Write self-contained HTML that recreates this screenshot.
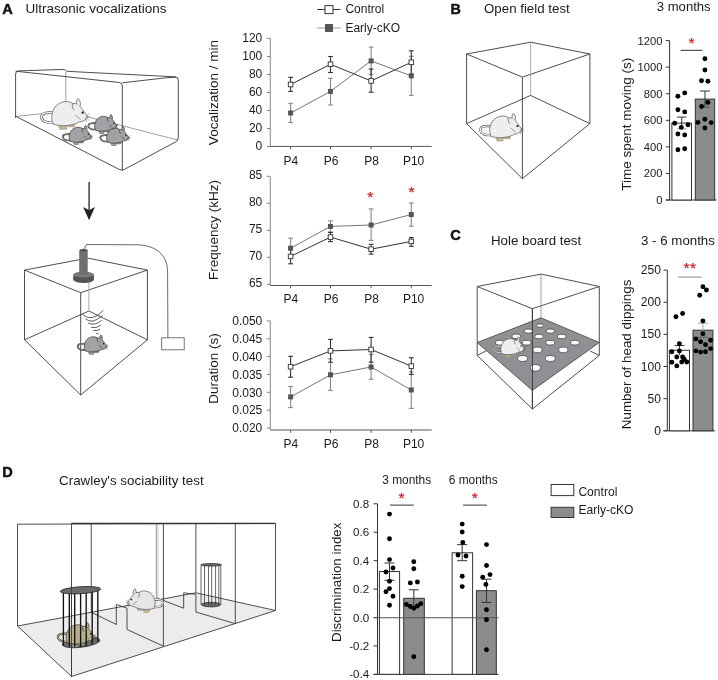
<!DOCTYPE html>
<html><head><meta charset="utf-8"><style>
html,body{margin:0;padding:0;background:#fff;}
svg{display:block;font-family:"Liberation Sans",sans-serif;will-change:transform;}
</style></head><body>
<svg width="718" height="680" viewBox="0 0 718 680">
<rect width="718" height="680" fill="#fff"/>
<text x="2.3" y="13.6" font-size="14.6" text-anchor="start" font-weight="bold" fill="#111" stroke="#111" stroke-width="0.45">A</text>
<text x="25.5" y="12.9" font-size="13.5" text-anchor="start" font-weight="normal" fill="#1a1a1a" >Ultrasonic vocalizations</text>
<text x="450.4" y="13.5" font-size="14.3" text-anchor="start" font-weight="bold" fill="#111" stroke="#111" stroke-width="0.45">B</text>
<text x="484.0" y="13.0" font-size="13.3" text-anchor="start" font-weight="normal" fill="#1a1a1a" >Open field test</text>
<text x="656.8" y="10.6" font-size="13.1" text-anchor="start" font-weight="normal" fill="#1a1a1a" >3 months</text>
<text x="450.2" y="240.3" font-size="14.6" text-anchor="start" font-weight="bold" fill="#111" stroke="#111" stroke-width="0.45">C</text>
<text x="491.0" y="245.4" font-size="13.3" text-anchor="start" font-weight="normal" fill="#1a1a1a" >Hole board test</text>
<text x="641.0" y="245.2" font-size="13.3" text-anchor="start" font-weight="normal" fill="#1a1a1a" >3 - 6 months</text>
<text x="2.2" y="476.7" font-size="14.6" text-anchor="start" font-weight="bold" fill="#111" stroke="#111" stroke-width="0.45">D</text>
<text x="59.0" y="485.0" font-size="13.4" text-anchor="start" font-weight="normal" fill="#1a1a1a" >Crawley's sociability test</text>
<line x1="270.3" y1="38.4" x2="270.3" y2="146.4" stroke="#888" stroke-width="1" />
<line x1="266.8" y1="38.4" x2="270.3" y2="38.4" stroke="#888" stroke-width="1" />
<text x="262.3" y="41.8" font-size="12" text-anchor="end" font-weight="normal" fill="#1a1a1a" >120</text>
<line x1="266.8" y1="56.5" x2="270.3" y2="56.5" stroke="#888" stroke-width="1" />
<text x="262.3" y="59.9" font-size="12" text-anchor="end" font-weight="normal" fill="#1a1a1a" >100</text>
<line x1="266.8" y1="74.5" x2="270.3" y2="74.5" stroke="#888" stroke-width="1" />
<text x="262.3" y="77.89999999999999" font-size="12" text-anchor="end" font-weight="normal" fill="#1a1a1a" >80</text>
<line x1="266.8" y1="92.5" x2="270.3" y2="92.5" stroke="#888" stroke-width="1" />
<text x="262.3" y="95.89999999999999" font-size="12" text-anchor="end" font-weight="normal" fill="#1a1a1a" >60</text>
<line x1="266.8" y1="110.5" x2="270.3" y2="110.5" stroke="#888" stroke-width="1" />
<text x="262.3" y="113.89999999999999" font-size="12" text-anchor="end" font-weight="normal" fill="#1a1a1a" >40</text>
<line x1="266.8" y1="128.5" x2="270.3" y2="128.5" stroke="#888" stroke-width="1" />
<text x="262.3" y="131.9" font-size="12" text-anchor="end" font-weight="normal" fill="#1a1a1a" >20</text>
<line x1="266.8" y1="146.5" x2="270.3" y2="146.5" stroke="#888" stroke-width="1" />
<text x="262.3" y="149.9" font-size="12" text-anchor="end" font-weight="normal" fill="#1a1a1a" >0</text>
<line x1="270.3" y1="146.4" x2="431.7" y2="146.4" stroke="#555" stroke-width="1" />
<line x1="290.6" y1="146.4" x2="290.6" y2="149.20000000000002" stroke="#555" stroke-width="1" />
<text x="290.85" y="164.6" font-size="12" text-anchor="middle" font-weight="normal" fill="#1a1a1a" >P4</text>
<line x1="330.5" y1="146.4" x2="330.5" y2="149.20000000000002" stroke="#555" stroke-width="1" />
<text x="331.2" y="164.6" font-size="12" text-anchor="middle" font-weight="normal" fill="#1a1a1a" >P6</text>
<line x1="371.1" y1="146.4" x2="371.1" y2="149.20000000000002" stroke="#555" stroke-width="1" />
<text x="371.5" y="164.6" font-size="12" text-anchor="middle" font-weight="normal" fill="#1a1a1a" >P8</text>
<line x1="411.3" y1="146.4" x2="411.3" y2="149.20000000000002" stroke="#555" stroke-width="1" />
<text x="413.6" y="164.6" font-size="12" text-anchor="middle" font-weight="normal" fill="#1a1a1a" >P10</text>
<text transform="translate(218.2,92.6) rotate(-90)" font-size="13.5" text-anchor="middle" fill="#1a1a1a">Vocalization / min</text>
<line x1="290.6" y1="103.4" x2="290.6" y2="122.5" stroke="#888" stroke-width="1.1" />
<line x1="288.20000000000005" y1="103.4" x2="293.0" y2="103.4" stroke="#888" stroke-width="1.1" />
<line x1="288.20000000000005" y1="122.5" x2="293.0" y2="122.5" stroke="#888" stroke-width="1.1" />
<line x1="330.5" y1="78.3" x2="330.5" y2="105" stroke="#888" stroke-width="1.1" />
<line x1="328.1" y1="78.3" x2="332.9" y2="78.3" stroke="#888" stroke-width="1.1" />
<line x1="328.1" y1="105" x2="332.9" y2="105" stroke="#888" stroke-width="1.1" />
<line x1="371.1" y1="47.1" x2="371.1" y2="74.6" stroke="#888" stroke-width="1.1" />
<line x1="368.70000000000005" y1="47.1" x2="373.5" y2="47.1" stroke="#888" stroke-width="1.1" />
<line x1="368.70000000000005" y1="74.6" x2="373.5" y2="74.6" stroke="#888" stroke-width="1.1" />
<line x1="411.3" y1="56.3" x2="411.3" y2="95.4" stroke="#888" stroke-width="1.1" />
<line x1="408.90000000000003" y1="56.3" x2="413.7" y2="56.3" stroke="#888" stroke-width="1.1" />
<line x1="408.90000000000003" y1="95.4" x2="413.7" y2="95.4" stroke="#888" stroke-width="1.1" />
<line x1="290.6" y1="77.3" x2="290.6" y2="91.4" stroke="#333" stroke-width="1.1" />
<line x1="288.20000000000005" y1="77.3" x2="293.0" y2="77.3" stroke="#333" stroke-width="1.1" />
<line x1="288.20000000000005" y1="91.4" x2="293.0" y2="91.4" stroke="#333" stroke-width="1.1" />
<line x1="330.5" y1="56.5" x2="330.5" y2="72.5" stroke="#333" stroke-width="1.1" />
<line x1="328.1" y1="56.5" x2="332.9" y2="56.5" stroke="#333" stroke-width="1.1" />
<line x1="328.1" y1="72.5" x2="332.9" y2="72.5" stroke="#333" stroke-width="1.1" />
<line x1="371.1" y1="69" x2="371.1" y2="92.2" stroke="#333" stroke-width="1.1" />
<line x1="368.70000000000005" y1="69" x2="373.5" y2="69" stroke="#333" stroke-width="1.1" />
<line x1="368.70000000000005" y1="92.2" x2="373.5" y2="92.2" stroke="#333" stroke-width="1.1" />
<line x1="411.3" y1="50.8" x2="411.3" y2="74.4" stroke="#333" stroke-width="1.1" />
<line x1="408.90000000000003" y1="50.8" x2="413.7" y2="50.8" stroke="#333" stroke-width="1.1" />
<line x1="408.90000000000003" y1="74.4" x2="413.7" y2="74.4" stroke="#333" stroke-width="1.1" />
<path d="M290.6,113 L330.5,91.4 L371.1,60.9 L411.3,75.9" fill="none" stroke="#777" stroke-width="1" />
<path d="M290.6,84.5 L330.5,64.3 L371.1,80.9 L411.3,62.3" fill="none" stroke="#333" stroke-width="1" />
<rect x="288.1" y="110.5" width="5" height="5" fill="#555"/>
<rect x="328.0" y="88.9" width="5" height="5" fill="#555"/>
<rect x="368.6" y="58.4" width="5" height="5" fill="#555"/>
<rect x="408.8" y="73.4" width="5" height="5" fill="#555"/>
<rect x="288.3" y="82.2" width="4.6" height="4.6" fill="#fff" stroke="#333" stroke-width="0.9"/>
<rect x="328.2" y="62.0" width="4.6" height="4.6" fill="#fff" stroke="#333" stroke-width="0.9"/>
<rect x="368.8" y="78.60000000000001" width="4.6" height="4.6" fill="#fff" stroke="#333" stroke-width="0.9"/>
<rect x="409.0" y="60.0" width="4.6" height="4.6" fill="#fff" stroke="#333" stroke-width="0.9"/>
<line x1="270.3" y1="176.3" x2="270.3" y2="285.5" stroke="#888" stroke-width="1" />
<line x1="266.8" y1="176.3" x2="270.3" y2="176.3" stroke="#888" stroke-width="1" />
<text x="262.3" y="179.10000000000002" font-size="12" text-anchor="end" font-weight="normal" fill="#1a1a1a" >85</text>
<line x1="266.8" y1="203.3" x2="270.3" y2="203.3" stroke="#888" stroke-width="1" />
<text x="262.3" y="206.10000000000002" font-size="12" text-anchor="end" font-weight="normal" fill="#1a1a1a" >80</text>
<line x1="266.8" y1="230.3" x2="270.3" y2="230.3" stroke="#888" stroke-width="1" />
<text x="262.3" y="233.10000000000002" font-size="12" text-anchor="end" font-weight="normal" fill="#1a1a1a" >75</text>
<line x1="266.8" y1="257.3" x2="270.3" y2="257.3" stroke="#888" stroke-width="1" />
<text x="262.3" y="260.1" font-size="12" text-anchor="end" font-weight="normal" fill="#1a1a1a" >70</text>
<line x1="266.8" y1="284.3" x2="270.3" y2="284.3" stroke="#888" stroke-width="1" />
<text x="262.3" y="287.1" font-size="12" text-anchor="end" font-weight="normal" fill="#1a1a1a" >65</text>
<line x1="270.3" y1="285.5" x2="431.7" y2="285.5" stroke="#555" stroke-width="1" />
<line x1="290.6" y1="285.5" x2="290.6" y2="288.3" stroke="#555" stroke-width="1" />
<text x="290.85" y="303.2" font-size="12" text-anchor="middle" font-weight="normal" fill="#1a1a1a" >P4</text>
<line x1="330.5" y1="285.5" x2="330.5" y2="288.3" stroke="#555" stroke-width="1" />
<text x="331.2" y="303.2" font-size="12" text-anchor="middle" font-weight="normal" fill="#1a1a1a" >P6</text>
<line x1="371.1" y1="285.5" x2="371.1" y2="288.3" stroke="#555" stroke-width="1" />
<text x="371.5" y="303.2" font-size="12" text-anchor="middle" font-weight="normal" fill="#1a1a1a" >P8</text>
<line x1="411.3" y1="285.5" x2="411.3" y2="288.3" stroke="#555" stroke-width="1" />
<text x="413.6" y="303.2" font-size="12" text-anchor="middle" font-weight="normal" fill="#1a1a1a" >P10</text>
<text transform="translate(218.2,230.0) rotate(-90)" font-size="13.5" text-anchor="middle" fill="#1a1a1a">Frequency (kHz)</text>
<line x1="290.6" y1="238.1" x2="290.6" y2="258" stroke="#888" stroke-width="1.1" />
<line x1="288.20000000000005" y1="238.1" x2="293.0" y2="238.1" stroke="#888" stroke-width="1.1" />
<line x1="288.20000000000005" y1="258" x2="293.0" y2="258" stroke="#888" stroke-width="1.1" />
<line x1="330.5" y1="220.9" x2="330.5" y2="232" stroke="#888" stroke-width="1.1" />
<line x1="328.1" y1="220.9" x2="332.9" y2="220.9" stroke="#888" stroke-width="1.1" />
<line x1="328.1" y1="232" x2="332.9" y2="232" stroke="#888" stroke-width="1.1" />
<line x1="371.1" y1="208.9" x2="371.1" y2="240.4" stroke="#888" stroke-width="1.1" />
<line x1="368.70000000000005" y1="208.9" x2="373.5" y2="208.9" stroke="#888" stroke-width="1.1" />
<line x1="368.70000000000005" y1="240.4" x2="373.5" y2="240.4" stroke="#888" stroke-width="1.1" />
<line x1="411.3" y1="203" x2="411.3" y2="226.2" stroke="#888" stroke-width="1.1" />
<line x1="408.90000000000003" y1="203" x2="413.7" y2="203" stroke="#888" stroke-width="1.1" />
<line x1="408.90000000000003" y1="226.2" x2="413.7" y2="226.2" stroke="#888" stroke-width="1.1" />
<line x1="290.6" y1="249" x2="290.6" y2="263.8" stroke="#333" stroke-width="1.1" />
<line x1="288.20000000000005" y1="249" x2="293.0" y2="249" stroke="#333" stroke-width="1.1" />
<line x1="288.20000000000005" y1="263.8" x2="293.0" y2="263.8" stroke="#333" stroke-width="1.1" />
<line x1="330.5" y1="232.5" x2="330.5" y2="241.6" stroke="#333" stroke-width="1.1" />
<line x1="328.1" y1="232.5" x2="332.9" y2="232.5" stroke="#333" stroke-width="1.1" />
<line x1="328.1" y1="241.6" x2="332.9" y2="241.6" stroke="#333" stroke-width="1.1" />
<line x1="371.1" y1="244.3" x2="371.1" y2="254.1" stroke="#333" stroke-width="1.1" />
<line x1="368.70000000000005" y1="244.3" x2="373.5" y2="244.3" stroke="#333" stroke-width="1.1" />
<line x1="368.70000000000005" y1="254.1" x2="373.5" y2="254.1" stroke="#333" stroke-width="1.1" />
<line x1="411.3" y1="237.5" x2="411.3" y2="246.3" stroke="#333" stroke-width="1.1" />
<line x1="408.90000000000003" y1="237.5" x2="413.7" y2="237.5" stroke="#333" stroke-width="1.1" />
<line x1="408.90000000000003" y1="246.3" x2="413.7" y2="246.3" stroke="#333" stroke-width="1.1" />
<path d="M290.6,248.2 L330.5,226.4 L371.1,225 L411.3,214.5" fill="none" stroke="#777" stroke-width="1" />
<path d="M290.6,256.4 L330.5,237.1 L371.1,249.2 L411.3,241.4" fill="none" stroke="#333" stroke-width="1" />
<rect x="288.1" y="245.7" width="5" height="5" fill="#555"/>
<rect x="328.0" y="223.9" width="5" height="5" fill="#555"/>
<rect x="368.6" y="222.5" width="5" height="5" fill="#555"/>
<rect x="408.8" y="212.0" width="5" height="5" fill="#555"/>
<rect x="288.3" y="254.09999999999997" width="4.6" height="4.6" fill="#fff" stroke="#333" stroke-width="0.9"/>
<rect x="328.2" y="234.79999999999998" width="4.6" height="4.6" fill="#fff" stroke="#333" stroke-width="0.9"/>
<rect x="368.8" y="246.89999999999998" width="4.6" height="4.6" fill="#fff" stroke="#333" stroke-width="0.9"/>
<rect x="409.0" y="239.1" width="4.6" height="4.6" fill="#fff" stroke="#333" stroke-width="0.9"/>
<line x1="270.3" y1="320.9" x2="270.3" y2="430" stroke="#888" stroke-width="1" />
<line x1="266.8" y1="320.9" x2="270.3" y2="320.9" stroke="#888" stroke-width="1" />
<text x="262.3" y="325.2" font-size="12" text-anchor="end" font-weight="normal" fill="#1a1a1a" >0.050</text>
<line x1="266.8" y1="338.75" x2="270.3" y2="338.75" stroke="#888" stroke-width="1" />
<text x="262.3" y="343.05" font-size="12" text-anchor="end" font-weight="normal" fill="#1a1a1a" >0.045</text>
<line x1="266.8" y1="356.59999999999997" x2="270.3" y2="356.59999999999997" stroke="#888" stroke-width="1" />
<text x="262.3" y="360.9" font-size="12" text-anchor="end" font-weight="normal" fill="#1a1a1a" >0.040</text>
<line x1="266.8" y1="374.45" x2="270.3" y2="374.45" stroke="#888" stroke-width="1" />
<text x="262.3" y="378.75" font-size="12" text-anchor="end" font-weight="normal" fill="#1a1a1a" >0.035</text>
<line x1="266.8" y1="392.29999999999995" x2="270.3" y2="392.29999999999995" stroke="#888" stroke-width="1" />
<text x="262.3" y="396.59999999999997" font-size="12" text-anchor="end" font-weight="normal" fill="#1a1a1a" >0.030</text>
<line x1="266.8" y1="410.15" x2="270.3" y2="410.15" stroke="#888" stroke-width="1" />
<text x="262.3" y="414.45" font-size="12" text-anchor="end" font-weight="normal" fill="#1a1a1a" >0.025</text>
<line x1="266.8" y1="428.0" x2="270.3" y2="428.0" stroke="#888" stroke-width="1" />
<text x="262.3" y="432.3" font-size="12" text-anchor="end" font-weight="normal" fill="#1a1a1a" >0.020</text>
<line x1="270.3" y1="430" x2="431.7" y2="430" stroke="#555" stroke-width="1" />
<line x1="290.6" y1="430" x2="290.6" y2="432.8" stroke="#555" stroke-width="1" />
<text x="290.85" y="448.2" font-size="12" text-anchor="middle" font-weight="normal" fill="#1a1a1a" >P4</text>
<line x1="330.5" y1="430" x2="330.5" y2="432.8" stroke="#555" stroke-width="1" />
<text x="331.2" y="448.2" font-size="12" text-anchor="middle" font-weight="normal" fill="#1a1a1a" >P6</text>
<line x1="371.1" y1="430" x2="371.1" y2="432.8" stroke="#555" stroke-width="1" />
<text x="371.5" y="448.2" font-size="12" text-anchor="middle" font-weight="normal" fill="#1a1a1a" >P8</text>
<line x1="411.3" y1="430" x2="411.3" y2="432.8" stroke="#555" stroke-width="1" />
<text x="413.6" y="448.2" font-size="12" text-anchor="middle" font-weight="normal" fill="#1a1a1a" >P10</text>
<text transform="translate(218.2,368.5) rotate(-90)" font-size="13.5" text-anchor="middle" fill="#1a1a1a">Duration (s)</text>
<line x1="290.6" y1="386.5" x2="290.6" y2="407.6" stroke="#888" stroke-width="1.1" />
<line x1="288.20000000000005" y1="386.5" x2="293.0" y2="386.5" stroke="#888" stroke-width="1.1" />
<line x1="288.20000000000005" y1="407.6" x2="293.0" y2="407.6" stroke="#888" stroke-width="1.1" />
<line x1="330.5" y1="358.9" x2="330.5" y2="390.4" stroke="#888" stroke-width="1.1" />
<line x1="328.1" y1="358.9" x2="332.9" y2="358.9" stroke="#888" stroke-width="1.1" />
<line x1="328.1" y1="390.4" x2="332.9" y2="390.4" stroke="#888" stroke-width="1.1" />
<line x1="371.1" y1="354.4" x2="371.1" y2="379.3" stroke="#888" stroke-width="1.1" />
<line x1="368.70000000000005" y1="354.4" x2="373.5" y2="354.4" stroke="#888" stroke-width="1.1" />
<line x1="368.70000000000005" y1="379.3" x2="373.5" y2="379.3" stroke="#888" stroke-width="1.1" />
<line x1="411.3" y1="371.9" x2="411.3" y2="408.4" stroke="#888" stroke-width="1.1" />
<line x1="408.90000000000003" y1="371.9" x2="413.7" y2="371.9" stroke="#888" stroke-width="1.1" />
<line x1="408.90000000000003" y1="408.4" x2="413.7" y2="408.4" stroke="#888" stroke-width="1.1" />
<line x1="290.6" y1="356.3" x2="290.6" y2="377.2" stroke="#333" stroke-width="1.1" />
<line x1="288.20000000000005" y1="356.3" x2="293.0" y2="356.3" stroke="#333" stroke-width="1.1" />
<line x1="288.20000000000005" y1="377.2" x2="293.0" y2="377.2" stroke="#333" stroke-width="1.1" />
<line x1="330.5" y1="339.4" x2="330.5" y2="362.2" stroke="#333" stroke-width="1.1" />
<line x1="328.1" y1="339.4" x2="332.9" y2="339.4" stroke="#333" stroke-width="1.1" />
<line x1="328.1" y1="362.2" x2="332.9" y2="362.2" stroke="#333" stroke-width="1.1" />
<line x1="371.1" y1="337.4" x2="371.1" y2="362.2" stroke="#333" stroke-width="1.1" />
<line x1="368.70000000000005" y1="337.4" x2="373.5" y2="337.4" stroke="#333" stroke-width="1.1" />
<line x1="368.70000000000005" y1="362.2" x2="373.5" y2="362.2" stroke="#333" stroke-width="1.1" />
<line x1="411.3" y1="357.7" x2="411.3" y2="374.5" stroke="#333" stroke-width="1.1" />
<line x1="408.90000000000003" y1="357.7" x2="413.7" y2="357.7" stroke="#333" stroke-width="1.1" />
<line x1="408.90000000000003" y1="374.5" x2="413.7" y2="374.5" stroke="#333" stroke-width="1.1" />
<path d="M290.6,396.9 L330.5,374.8 L371.1,367 L411.3,390" fill="none" stroke="#777" stroke-width="1" />
<path d="M290.6,366.7 L330.5,350.9 L371.1,349.5 L411.3,366.1" fill="none" stroke="#333" stroke-width="1" />
<rect x="288.1" y="394.4" width="5" height="5" fill="#555"/>
<rect x="328.0" y="372.3" width="5" height="5" fill="#555"/>
<rect x="368.6" y="364.5" width="5" height="5" fill="#555"/>
<rect x="408.8" y="387.5" width="5" height="5" fill="#555"/>
<rect x="288.3" y="364.4" width="4.6" height="4.6" fill="#fff" stroke="#333" stroke-width="0.9"/>
<rect x="328.2" y="348.59999999999997" width="4.6" height="4.6" fill="#fff" stroke="#333" stroke-width="0.9"/>
<rect x="368.8" y="347.2" width="4.6" height="4.6" fill="#fff" stroke="#333" stroke-width="0.9"/>
<rect x="409.0" y="363.8" width="4.6" height="4.6" fill="#fff" stroke="#333" stroke-width="0.9"/>
<text x="370.3" y="202.42" font-size="15.5" text-anchor="middle" font-weight="normal" fill="#c4202b" stroke="#c4202b" stroke-width="0.25">*</text>
<text x="411.6" y="196.62" font-size="15.5" text-anchor="middle" font-weight="normal" fill="#c4202b" stroke="#c4202b" stroke-width="0.25">*</text>
<line x1="317.2" y1="9.5" x2="340.6" y2="9.5" stroke="#333" stroke-width="1" />
<rect x="325" y="5.6" width="8" height="8" fill="#fff" stroke="#333" stroke-width="1"/>
<text x="345.4" y="13.3" font-size="12" text-anchor="start" font-weight="normal" fill="#1a1a1a" >Control</text>
<line x1="317.2" y1="27.9" x2="340.6" y2="27.9" stroke="#aaa" stroke-width="1.2" />
<rect x="325" y="24" width="8" height="8" fill="#555"/>
<text x="345.4" y="31.9" font-size="12" text-anchor="start" font-weight="normal" fill="#1a1a1a" >Early-cKO</text>
<line x1="669.6" y1="40.6" x2="669.6" y2="200" stroke="#333" stroke-width="1" />
<line x1="665.8" y1="40.6" x2="669.6" y2="40.6" stroke="#333" stroke-width="1" />
<text x="662.4" y="44.5" font-size="11.2" text-anchor="end" font-weight="normal" fill="#1a1a1a" >1200</text>
<line x1="665.8" y1="67.17" x2="669.6" y2="67.17" stroke="#333" stroke-width="1" />
<text x="662.4" y="71.07000000000001" font-size="11.2" text-anchor="end" font-weight="normal" fill="#1a1a1a" >1000</text>
<line x1="665.8" y1="93.74000000000001" x2="669.6" y2="93.74000000000001" stroke="#333" stroke-width="1" />
<text x="662.4" y="97.64000000000001" font-size="11.2" text-anchor="end" font-weight="normal" fill="#1a1a1a" >800</text>
<line x1="665.8" y1="120.31" x2="669.6" y2="120.31" stroke="#333" stroke-width="1" />
<text x="662.4" y="124.21000000000001" font-size="11.2" text-anchor="end" font-weight="normal" fill="#1a1a1a" >600</text>
<line x1="665.8" y1="146.88" x2="669.6" y2="146.88" stroke="#333" stroke-width="1" />
<text x="662.4" y="150.78" font-size="11.2" text-anchor="end" font-weight="normal" fill="#1a1a1a" >400</text>
<line x1="665.8" y1="173.45" x2="669.6" y2="173.45" stroke="#333" stroke-width="1" />
<text x="662.4" y="177.35" font-size="11.2" text-anchor="end" font-weight="normal" fill="#1a1a1a" >200</text>
<line x1="665.8" y1="200.02" x2="669.6" y2="200.02" stroke="#333" stroke-width="1" />
<text x="662.4" y="203.92000000000002" font-size="11.2" text-anchor="end" font-weight="normal" fill="#1a1a1a" >0</text>
<line x1="665.8" y1="200" x2="716.6" y2="200" stroke="#333" stroke-width="1" />
<rect x="671.9" y="123.1" width="19.6" height="76.9" fill="#fff" stroke="#333" stroke-width="1"/>
<rect x="695.3" y="99.1" width="19.4" height="100.9" fill="#8c8c8f" stroke="#333" stroke-width="1"/>
<text transform="translate(630.9,124.2) rotate(-90)" font-size="13.5" text-anchor="middle" fill="#1a1a1a">Time spent moving (s)</text>
<line x1="680.6" y1="50.3" x2="702.6" y2="50.3" stroke="#333" stroke-width="1" />
<text x="691.4" y="48.12" font-size="15.5" text-anchor="middle" font-weight="normal" fill="#c4202b" stroke="#c4202b" stroke-width="0.25">*</text>
<line x1="681.7" y1="117.1" x2="681.7" y2="128.8" stroke="#333" stroke-width="1" />
<line x1="677" y1="117.1" x2="686.4" y2="117.1" stroke="#333" stroke-width="1" />
<line x1="677" y1="128.8" x2="686.4" y2="128.8" stroke="#aaa" stroke-width="1" />
<line x1="705" y1="91" x2="705" y2="107.2" stroke="#333" stroke-width="1" />
<line x1="700" y1="91" x2="710" y2="91" stroke="#333" stroke-width="1" />
<line x1="700" y1="107.2" x2="710" y2="107.2" stroke="#555" stroke-width="1" />
<circle cx="677.9" cy="96.2" r="2.45" fill="#000"/>
<circle cx="684.7" cy="92.9" r="2.45" fill="#000"/>
<circle cx="677.9" cy="109.7" r="2.45" fill="#000"/>
<circle cx="684.7" cy="111.9" r="2.45" fill="#000"/>
<circle cx="674.7" cy="123.2" r="2.45" fill="#000"/>
<circle cx="688" cy="124.7" r="2.45" fill="#000"/>
<circle cx="681.3" cy="127.4" r="2.45" fill="#000"/>
<circle cx="677.9" cy="134" r="2.45" fill="#000"/>
<circle cx="684.7" cy="135" r="2.45" fill="#000"/>
<circle cx="677.9" cy="149.7" r="2.45" fill="#000"/>
<circle cx="684.7" cy="148.8" r="2.45" fill="#000"/>
<circle cx="704.9" cy="58.7" r="2.45" fill="#000"/>
<circle cx="704.9" cy="70" r="2.45" fill="#000"/>
<circle cx="701.5" cy="80.7" r="2.45" fill="#000"/>
<circle cx="707.9" cy="81.2" r="2.45" fill="#000"/>
<circle cx="707.9" cy="102.4" r="2.45" fill="#000"/>
<circle cx="701.6" cy="106.5" r="2.45" fill="#000"/>
<circle cx="704.9" cy="119.3" r="2.45" fill="#000"/>
<circle cx="697.9" cy="122.4" r="2.45" fill="#000"/>
<circle cx="711.2" cy="122.6" r="2.45" fill="#000"/>
<circle cx="704.9" cy="128" r="2.45" fill="#000"/>
<line x1="667.3" y1="270.1" x2="667.3" y2="430.8" stroke="#333" stroke-width="1" />
<line x1="663.5" y1="270.1" x2="667.3" y2="270.1" stroke="#333" stroke-width="1" />
<text x="661.0" y="274.20000000000005" font-size="12.1" text-anchor="end" font-weight="normal" fill="#1a1a1a" >250</text>
<line x1="663.5" y1="302.24" x2="667.3" y2="302.24" stroke="#333" stroke-width="1" />
<text x="661.0" y="306.34000000000003" font-size="12.1" text-anchor="end" font-weight="normal" fill="#1a1a1a" >200</text>
<line x1="663.5" y1="334.38" x2="667.3" y2="334.38" stroke="#333" stroke-width="1" />
<text x="661.0" y="338.48" font-size="12.1" text-anchor="end" font-weight="normal" fill="#1a1a1a" >150</text>
<line x1="663.5" y1="366.52000000000004" x2="667.3" y2="366.52000000000004" stroke="#333" stroke-width="1" />
<text x="661.0" y="370.62000000000006" font-size="12.1" text-anchor="end" font-weight="normal" fill="#1a1a1a" >100</text>
<line x1="663.5" y1="398.66" x2="667.3" y2="398.66" stroke="#333" stroke-width="1" />
<text x="661.0" y="402.76000000000005" font-size="12.1" text-anchor="end" font-weight="normal" fill="#1a1a1a" >50</text>
<line x1="663.5" y1="430.8" x2="667.3" y2="430.8" stroke="#333" stroke-width="1" />
<text x="661.0" y="434.90000000000003" font-size="12.1" text-anchor="end" font-weight="normal" fill="#1a1a1a" >0</text>
<line x1="663.5" y1="430.8" x2="715" y2="430.8" stroke="#333" stroke-width="1" />
<rect x="669.4" y="350.3" width="20.1" height="80.5" fill="#fff" stroke="#333" stroke-width="1"/>
<rect x="693" y="330.2" width="19.9" height="100.6" fill="#8c8c8f" stroke="#333" stroke-width="1"/>
<text transform="translate(630.9,354.4) rotate(-90)" font-size="13.4" text-anchor="middle" fill="#1a1a1a">Number of head dippings</text>
<line x1="678.2" y1="277.1" x2="701.8" y2="277.1" stroke="#888" stroke-width="1" />
<text x="686.5" y="272.82" font-size="15.5" text-anchor="middle" font-weight="normal" fill="#c4202b" stroke="#c4202b" stroke-width="0.25">*</text>
<text x="693" y="272.82" font-size="15.5" text-anchor="middle" font-weight="normal" fill="#c4202b" stroke="#c4202b" stroke-width="0.25">*</text>
<line x1="679.4" y1="345.6" x2="679.4" y2="355" stroke="#333" stroke-width="1" />
<line x1="674.5" y1="345.6" x2="684.5" y2="345.6" stroke="#333" stroke-width="1" />
<line x1="702.9" y1="323.2" x2="702.9" y2="337.3" stroke="#aaa" stroke-width="1" />
<line x1="698" y1="323.2" x2="708" y2="323.2" stroke="#aaa" stroke-width="1" />
<line x1="698" y1="337.3" x2="708" y2="337.3" stroke="#555" stroke-width="1" />
<circle cx="675.9" cy="316.8" r="2.45" fill="#000"/>
<circle cx="682.6" cy="313.5" r="2.45" fill="#000"/>
<circle cx="679.4" cy="343.8" r="2.45" fill="#000"/>
<circle cx="671.8" cy="351.8" r="2.45" fill="#000"/>
<circle cx="679.4" cy="350.9" r="2.45" fill="#000"/>
<circle cx="676.8" cy="357" r="2.45" fill="#000"/>
<circle cx="682.6" cy="357" r="2.45" fill="#000"/>
<circle cx="684.2" cy="359.3" r="2.45" fill="#000"/>
<circle cx="671.8" cy="362.3" r="2.45" fill="#000"/>
<circle cx="681.7" cy="362" r="2.45" fill="#000"/>
<circle cx="686.8" cy="362" r="2.45" fill="#000"/>
<circle cx="676.8" cy="365.9" r="2.45" fill="#000"/>
<circle cx="702.9" cy="286.8" r="2.45" fill="#000"/>
<circle cx="706.4" cy="290" r="2.45" fill="#000"/>
<circle cx="699.7" cy="295.3" r="2.45" fill="#000"/>
<circle cx="702.9" cy="320.9" r="2.45" fill="#000"/>
<circle cx="702.9" cy="333.8" r="2.45" fill="#000"/>
<circle cx="695.8" cy="338.9" r="2.45" fill="#000"/>
<circle cx="710.6" cy="340.3" r="2.45" fill="#000"/>
<circle cx="700.6" cy="341.7" r="2.45" fill="#000"/>
<circle cx="705.5" cy="344.7" r="2.45" fill="#000"/>
<circle cx="710.6" cy="348.6" r="2.45" fill="#000"/>
<circle cx="695.8" cy="350.9" r="2.45" fill="#000"/>
<circle cx="700.6" cy="352.1" r="2.45" fill="#000"/>
<circle cx="705.5" cy="351.8" r="2.45" fill="#000"/>
<line x1="377.5" y1="503.8" x2="377.5" y2="674.4" stroke="#333" stroke-width="1" />
<line x1="373.6" y1="503.8" x2="377.5" y2="503.8" stroke="#333" stroke-width="1" />
<text x="369.2" y="507.8" font-size="11.6" text-anchor="end" font-weight="normal" fill="#1a1a1a" >0.8</text>
<line x1="373.6" y1="532.23" x2="377.5" y2="532.23" stroke="#333" stroke-width="1" />
<text x="369.2" y="536.23" font-size="11.6" text-anchor="end" font-weight="normal" fill="#1a1a1a" >0.6</text>
<line x1="373.6" y1="560.66" x2="377.5" y2="560.66" stroke="#333" stroke-width="1" />
<text x="369.2" y="564.66" font-size="11.6" text-anchor="end" font-weight="normal" fill="#1a1a1a" >0.4</text>
<line x1="373.6" y1="589.09" x2="377.5" y2="589.09" stroke="#333" stroke-width="1" />
<text x="369.2" y="593.09" font-size="11.6" text-anchor="end" font-weight="normal" fill="#1a1a1a" >0.2</text>
<line x1="373.6" y1="617.52" x2="377.5" y2="617.52" stroke="#333" stroke-width="1" />
<text x="369.2" y="621.52" font-size="11.6" text-anchor="end" font-weight="normal" fill="#1a1a1a" >0.0</text>
<line x1="373.6" y1="645.95" x2="377.5" y2="645.95" stroke="#333" stroke-width="1" />
<text x="369.2" y="649.95" font-size="11.6" text-anchor="end" font-weight="normal" fill="#1a1a1a" >-0.2</text>
<line x1="373.6" y1="674.38" x2="377.5" y2="674.38" stroke="#333" stroke-width="1" />
<text x="369.2" y="678.38" font-size="11.6" text-anchor="end" font-weight="normal" fill="#1a1a1a" >-0.4</text>
<line x1="373.6" y1="674.4" x2="498.5" y2="674.4" stroke="#333" stroke-width="1" />
<rect x="379.4" y="571.5" width="20.2" height="102.8" fill="#fff" stroke="#333" stroke-width="1"/>
<rect x="403.7" y="598.3" width="20.6" height="76" fill="#8c8c8f" stroke="#333" stroke-width="1"/>
<rect x="452.1" y="552.8" width="20.5" height="121.5" fill="#fff" stroke="#333" stroke-width="1"/>
<rect x="476.4" y="590.7" width="19.9" height="83.6" fill="#8c8c8f" stroke="#333" stroke-width="1"/>
<line x1="373.6" y1="617.8" x2="498.5" y2="617.8" stroke="#555" stroke-width="1.1" />
<text transform="translate(340.6,582.3) rotate(-90)" font-size="13.35" text-anchor="middle" fill="#1a1a1a">Discrimination index</text>
<text x="406.7" y="484.1" font-size="11.9" text-anchor="middle" font-weight="normal" fill="#1a1a1a" >3 months</text>
<text x="473.2" y="484.1" font-size="11.9" text-anchor="middle" font-weight="normal" fill="#1a1a1a" >6 months</text>
<line x1="390.1" y1="505.1" x2="413.8" y2="505.1" stroke="#333" stroke-width="1" />
<text x="401.6" y="502.72" font-size="15.5" text-anchor="middle" font-weight="normal" fill="#c4202b" stroke="#c4202b" stroke-width="0.25">*</text>
<line x1="463.1" y1="505.1" x2="486.8" y2="505.1" stroke="#333" stroke-width="1" />
<text x="474.8" y="502.72" font-size="15.5" text-anchor="middle" font-weight="normal" fill="#c4202b" stroke="#c4202b" stroke-width="0.25">*</text>
<line x1="389.5" y1="563" x2="389.5" y2="580.3" stroke="#333" stroke-width="1" />
<line x1="384.5" y1="563" x2="394.5" y2="563" stroke="#333" stroke-width="1" />
<line x1="384.5" y1="580.3" x2="394.5" y2="580.3" stroke="#333" stroke-width="1" />
<line x1="413.8" y1="589.8" x2="413.8" y2="607" stroke="#333" stroke-width="1" />
<line x1="408.8" y1="589.8" x2="418.8" y2="589.8" stroke="#333" stroke-width="1" />
<line x1="408.8" y1="607" x2="418.8" y2="607" stroke="#333" stroke-width="1" />
<line x1="462.2" y1="544.6" x2="462.2" y2="560.7" stroke="#333" stroke-width="1" />
<line x1="457.2" y1="544.6" x2="467.2" y2="544.6" stroke="#333" stroke-width="1" />
<line x1="457.2" y1="560.7" x2="467.2" y2="560.7" stroke="#333" stroke-width="1" />
<line x1="486.5" y1="579.2" x2="486.5" y2="602.4" stroke="#333" stroke-width="1" />
<line x1="481.5" y1="579.2" x2="491.5" y2="579.2" stroke="#333" stroke-width="1" />
<line x1="481.5" y1="602.4" x2="491.5" y2="602.4" stroke="#333" stroke-width="1" />
<circle cx="389.5" cy="514.1" r="2.45" fill="#000"/>
<circle cx="389.5" cy="538.8" r="2.45" fill="#000"/>
<circle cx="389.5" cy="559.6" r="2.45" fill="#000"/>
<circle cx="393" cy="568" r="2.45" fill="#000"/>
<circle cx="386" cy="572" r="2.45" fill="#000"/>
<circle cx="389.5" cy="581.2" r="2.45" fill="#000"/>
<circle cx="389.5" cy="588.6" r="2.45" fill="#000"/>
<circle cx="386" cy="591.8" r="2.45" fill="#000"/>
<circle cx="393" cy="596.2" r="2.45" fill="#000"/>
<circle cx="389.5" cy="605.3" r="2.45" fill="#000"/>
<circle cx="413.8" cy="561.8" r="2.45" fill="#000"/>
<circle cx="413.8" cy="568.8" r="2.45" fill="#000"/>
<circle cx="410.3" cy="582.9" r="2.45" fill="#000"/>
<circle cx="417.4" cy="582" r="2.45" fill="#000"/>
<circle cx="406.4" cy="604.5" r="2.45" fill="#000"/>
<circle cx="410.3" cy="606.5" r="2.45" fill="#000"/>
<circle cx="413.8" cy="608.2" r="2.45" fill="#000"/>
<circle cx="417.4" cy="606" r="2.45" fill="#000"/>
<circle cx="420.8" cy="603.8" r="2.45" fill="#000"/>
<circle cx="413.8" cy="656.8" r="2.45" fill="#000"/>
<circle cx="462.2" cy="524.1" r="2.45" fill="#000"/>
<circle cx="462.2" cy="532" r="2.45" fill="#000"/>
<circle cx="462.8" cy="542.4" r="2.45" fill="#000"/>
<circle cx="458" cy="555" r="2.45" fill="#000"/>
<circle cx="466" cy="556" r="2.45" fill="#000"/>
<circle cx="462.2" cy="576.2" r="2.45" fill="#000"/>
<circle cx="462.2" cy="586.6" r="2.45" fill="#000"/>
<circle cx="486.5" cy="544.6" r="2.45" fill="#000"/>
<circle cx="486.5" cy="565.5" r="2.45" fill="#000"/>
<circle cx="482.7" cy="577.2" r="2.45" fill="#000"/>
<circle cx="490" cy="574.6" r="2.45" fill="#000"/>
<circle cx="485.9" cy="584.4" r="2.45" fill="#000"/>
<circle cx="486.5" cy="609.7" r="2.45" fill="#000"/>
<circle cx="486.5" cy="619.8" r="2.45" fill="#000"/>
<circle cx="486.5" cy="649.8" r="2.45" fill="#000"/>
<rect x="551.1" y="484.5" width="22.7" height="11.1" fill="#fff" stroke="#333" stroke-width="1"/>
<rect x="551.1" y="507.3" width="22.7" height="10.2" fill="#8c8c8f" stroke="#333" stroke-width="1"/>
<text x="578.4" y="495.7" font-size="12.1" text-anchor="start" font-weight="normal" fill="#1a1a1a" >Control</text>
<text x="578.4" y="514.2" font-size="12.1" text-anchor="start" font-weight="normal" fill="#1a1a1a" >Early-cKO</text>
<path d="M65.8,72 L65.8,111.5" fill="none" stroke="#888" stroke-width="0.8"/>
<path d="M15.6,116.5 L62.82,111.51 Q65.8,111.2 68.71,111.95 L178.3,140.2" fill="none" stroke="#888" stroke-width="0.8"/>
<path d="M15.6,118 L15.60,74.00 Q15.6,71 18.60,70.90 L63.12,69.45 Q64.5,69.4 65.50,70.35 L65.50,70.35 Q66.5,71.3 67.88,71.37 L175.30,76.85 Q178.3,77 178.30,80.00 L178.30,137.50 Q178.3,140.5 175.66,141.92 L124.44,169.38 Q121.8,170.8 119.13,169.43 L15.6,116.2" fill="none" stroke="#3a3a3a" stroke-width="0.9"/>
<path d="M15.6,71.2 L119.32,82.48 Q122.3,82.8 122.30,85.80 L122.3,170.5" fill="none" stroke="#3a3a3a" stroke-width="0.9"/>
<path d="M122.3,82.8 L163.02,78.14 Q166,77.8 168.99,77.62 L176,77.2" fill="none" stroke="#3a3a3a" stroke-width="0.9"/>
<line x1="89.1" y1="181.9" x2="89.1" y2="210" stroke="#222" stroke-width="1.3" />
<path d="M83.1,207.1 L89.1,210.2 L94.9,207.1 L89.1,220.3 Z" fill="#222"/>
<line x1="24.5" y1="270.1" x2="87.7" y2="258.1" stroke="#3a3a3a" stroke-width="0.9" />
<line x1="87.7" y1="258.1" x2="147.4" y2="270.1" stroke="#3a3a3a" stroke-width="0.9" />
<line x1="147.4" y1="270.1" x2="80.7" y2="292.7" stroke="#3a3a3a" stroke-width="0.9" />
<line x1="80.7" y1="292.7" x2="24.5" y2="270.1" stroke="#3a3a3a" stroke-width="0.9" />
<line x1="24.5" y1="270.1" x2="24.5" y2="339.8" stroke="#3a3a3a" stroke-width="0.9" />
<line x1="147.4" y1="270.1" x2="147.4" y2="339.8" stroke="#3a3a3a" stroke-width="0.9" />
<line x1="80.7" y1="292.7" x2="80.7" y2="395" stroke="#3a3a3a" stroke-width="0.9" />
<line x1="24.5" y1="339.8" x2="80.7" y2="395" stroke="#3a3a3a" stroke-width="0.9" />
<line x1="80.7" y1="395" x2="147.4" y2="339.8" stroke="#3a3a3a" stroke-width="0.9" />
<line x1="24.5" y1="339.8" x2="88.9" y2="311" stroke="#3a3a3a" stroke-width="0.9" />
<line x1="88.9" y1="311" x2="147.4" y2="339.8" stroke="#3a3a3a" stroke-width="0.9" />
<line x1="88.9" y1="282" x2="88.9" y2="311" stroke="#aaa" stroke-width="1" />
<path d="M84,249 L86.4,244.5 L138,244.8 C160,246 167.5,258 167.6,272 L167.9,337.8" fill="none" stroke="#444" stroke-width="0.8"/>
<rect x="161.7" y="337.8" width="22.5" height="12" fill="#fff" stroke="#555" stroke-width="0.8"/>
<ellipse cx="83.6" cy="279.5" rx="10.4" ry="3.4" fill="#555"/>
<rect x="73.2" y="274.5" width="20.8" height="5" fill="#555"/>
<ellipse cx="83.6" cy="274.5" rx="10.4" ry="3" fill="#7a7a7f"/>
<rect x="79.2" y="250" width="8.5" height="25" rx="1" fill="#6e6e73"/>
<ellipse cx="83.7" cy="250.2" rx="4" ry="1.2" fill="#555"/>
<path d="M82.4,314.4 Q91.9,322.9 103.5,310.3" fill="none" stroke="#333" stroke-width="0.8"/>
<path d="M85.6,318.9 Q91.9,324.9 102.6,315.4" fill="none" stroke="#333" stroke-width="0.8"/>
<path d="M88.2,323.2 Q95.0,326.2 101.8,320.3" fill="none" stroke="#333" stroke-width="0.8"/>
<path d="M90.9,327.2 Q96.1,329.1 100.9,325" fill="none" stroke="#333" stroke-width="0.8"/>
<path d="M93.2,330.4 Q97.4,331.2 100,329.2" fill="none" stroke="#333" stroke-width="0.8"/>
<path d="M95.9,333.5 Q97.7,334.2 98.8,333.4" fill="none" stroke="#333" stroke-width="0.8"/>
<line x1="530.6" y1="42.2" x2="466.6" y2="54" stroke="#3a3a3a" stroke-width="0.9" />
<line x1="530.6" y1="42.2" x2="589.9" y2="54" stroke="#3a3a3a" stroke-width="0.9" />
<line x1="466.6" y1="54" x2="522.4" y2="77.1" stroke="#3a3a3a" stroke-width="0.9" />
<line x1="589.9" y1="54" x2="522.4" y2="77.1" stroke="#3a3a3a" stroke-width="0.9" />
<line x1="466.6" y1="54" x2="466.6" y2="123.6" stroke="#3a3a3a" stroke-width="0.9" />
<line x1="589.9" y1="54" x2="589.9" y2="123.6" stroke="#3a3a3a" stroke-width="0.9" />
<line x1="522.4" y1="77.1" x2="522.4" y2="178.7" stroke="#3a3a3a" stroke-width="0.9" />
<line x1="466.6" y1="123.6" x2="522.4" y2="178.7" stroke="#3a3a3a" stroke-width="0.9" />
<line x1="589.9" y1="123.6" x2="522.4" y2="178.7" stroke="#3a3a3a" stroke-width="0.9" />
<line x1="466.6" y1="123.6" x2="530.6" y2="95.4" stroke="#3a3a3a" stroke-width="0.9" />
<line x1="530.6" y1="95.4" x2="589.9" y2="123.6" stroke="#3a3a3a" stroke-width="0.9" />
<line x1="530.6" y1="42.2" x2="530.6" y2="95.4" stroke="#999" stroke-width="0.8" />
<line x1="541" y1="274.1" x2="477.2" y2="286.5" stroke="#3a3a3a" stroke-width="0.9" />
<line x1="541" y1="274.1" x2="599.3" y2="286.5" stroke="#3a3a3a" stroke-width="0.9" />
<line x1="477.2" y1="286.5" x2="532.4" y2="308.7" stroke="#3a3a3a" stroke-width="0.9" />
<line x1="599.3" y1="286.5" x2="532.4" y2="308.7" stroke="#3a3a3a" stroke-width="0.9" />
<line x1="477.2" y1="286.5" x2="477.2" y2="355.4" stroke="#3a3a3a" stroke-width="0.9" />
<line x1="599.3" y1="286.5" x2="599.3" y2="355.4" stroke="#3a3a3a" stroke-width="0.9" />
<line x1="532.4" y1="308.7" x2="532.4" y2="409" stroke="#3a3a3a" stroke-width="0.9" />
<line x1="477.2" y1="355.4" x2="532.4" y2="409" stroke="#3a3a3a" stroke-width="0.9" />
<line x1="599.3" y1="355.4" x2="532.4" y2="409" stroke="#3a3a3a" stroke-width="0.9" />
<line x1="541" y1="274.1" x2="541" y2="317.8" stroke="#777" stroke-width="0.7" />
<path d="M541,317.8 L599.3,342.5 L532.4,390.4 L477.2,342.5 Z" fill="#8f8f94" stroke="#444" stroke-width="0.8" />
<line x1="477.2" y1="355.4" x2="486" y2="351" stroke="#3a3a3a" stroke-width="0.9" />
<line x1="599.3" y1="355.4" x2="590" y2="351" stroke="#3a3a3a" stroke-width="0.9" />
<ellipse cx="540.0" cy="325.6" rx="3.60" ry="1.70" fill="#fff" stroke="#333" stroke-width="0.7"/>
<ellipse cx="528.3" cy="331.1" rx="4.20" ry="2.05" fill="#fff" stroke="#333" stroke-width="0.7"/>
<ellipse cx="550.3" cy="331.1" rx="4.20" ry="2.05" fill="#fff" stroke="#333" stroke-width="0.7"/>
<ellipse cx="516.3" cy="336.3" rx="4.25" ry="2.20" fill="#fff" stroke="#333" stroke-width="0.7"/>
<ellipse cx="539.0" cy="336.5" rx="4.25" ry="2.20" fill="#fff" stroke="#333" stroke-width="0.7"/>
<ellipse cx="561.8" cy="336.5" rx="4.25" ry="2.20" fill="#fff" stroke="#333" stroke-width="0.7"/>
<ellipse cx="499.9" cy="342.7" rx="4.40" ry="2.35" fill="#fff" stroke="#333" stroke-width="0.7"/>
<ellipse cx="526.6" cy="342.7" rx="4.40" ry="2.35" fill="#fff" stroke="#333" stroke-width="0.7"/>
<ellipse cx="550.3" cy="342.7" rx="4.40" ry="2.35" fill="#fff" stroke="#333" stroke-width="0.7"/>
<ellipse cx="575.0" cy="342.7" rx="4.40" ry="2.35" fill="#fff" stroke="#333" stroke-width="0.7"/>
<ellipse cx="511.2" cy="350.3" rx="4.60" ry="2.80" fill="#fff" stroke="#333" stroke-width="0.7"/>
<ellipse cx="537.5" cy="349.9" rx="4.60" ry="2.80" fill="#fff" stroke="#333" stroke-width="0.7"/>
<ellipse cx="563.3" cy="349.9" rx="4.60" ry="2.80" fill="#fff" stroke="#333" stroke-width="0.7"/>
<ellipse cx="522.5" cy="358.5" rx="4.95" ry="2.95" fill="#fff" stroke="#333" stroke-width="0.7"/>
<ellipse cx="550.3" cy="358.5" rx="4.95" ry="2.95" fill="#fff" stroke="#333" stroke-width="0.7"/>
<ellipse cx="535.5" cy="367.8" rx="5.20" ry="3.30" fill="#fff" stroke="#333" stroke-width="0.7"/>
<line x1="532.4" y1="308.7" x2="532.4" y2="409" stroke="#333" stroke-width="0.9" />
<path d="M17.5,626 L71.5,676.5 L275.5,610.5 L195.9,592.8 Z" fill="#ececec" stroke="none" stroke-width="0" />
<line x1="17.5" y1="524.2" x2="275.5" y2="523.6" stroke="#3a3a3a" stroke-width="0.9" />
<line x1="17.5" y1="524.2" x2="17.5" y2="626" stroke="#3a3a3a" stroke-width="0.9" />
<line x1="71.5" y1="523.5" x2="71.5" y2="676.5" stroke="#3a3a3a" stroke-width="0.9" />
<line x1="275.5" y1="523.6" x2="275.5" y2="610.5" stroke="#3a3a3a" stroke-width="0.9" />
<line x1="17.5" y1="626" x2="71.5" y2="676.5" stroke="#3a3a3a" stroke-width="0.9" />
<line x1="71.5" y1="676.5" x2="275.5" y2="610.5" stroke="#3a3a3a" stroke-width="0.9" />
<line x1="17.5" y1="626" x2="195.9" y2="592.8" stroke="#3a3a3a" stroke-width="0.9" />
<line x1="195.9" y1="592.8" x2="275.5" y2="610.5" stroke="#3a3a3a" stroke-width="0.9" />
<line x1="91.25" y1="524" x2="91.25" y2="612.3" stroke="#3a3a3a" stroke-width="0.9" />
<line x1="163.4" y1="524" x2="163.4" y2="646.1" stroke="#3a3a3a" stroke-width="0.9" />
<line x1="195.9" y1="524" x2="195.9" y2="592.8" stroke="#3a3a3a" stroke-width="0.9" />
<line x1="235.3" y1="524" x2="235.3" y2="623.7" stroke="#3a3a3a" stroke-width="0.9" />
<line x1="91.25" y1="612.3" x2="116.3" y2="624.5" stroke="#3a3a3a" stroke-width="0.9" />
<line x1="116.3" y1="624.5" x2="116.3" y2="604.4" stroke="#3a3a3a" stroke-width="0.9" />
<line x1="116.3" y1="604.4" x2="127" y2="608.2" stroke="#3a3a3a" stroke-width="0.9" />
<line x1="127" y1="608.2" x2="127" y2="629.5" stroke="#3a3a3a" stroke-width="0.9" />
<line x1="127" y1="629.5" x2="163.4" y2="646.1" stroke="#3a3a3a" stroke-width="0.9" />
<line x1="156.6" y1="598" x2="183.7" y2="608.2" stroke="#3a3a3a" stroke-width="0.9" />
<line x1="183.7" y1="608.2" x2="183.7" y2="592.8" stroke="#3a3a3a" stroke-width="0.9" />
<line x1="183.7" y1="592.8" x2="195.9" y2="594.3" stroke="#3a3a3a" stroke-width="0.9" />
<line x1="195.9" y1="594.3" x2="195.9" y2="612" stroke="#3a3a3a" stroke-width="0.9" />
<line x1="195.9" y1="612" x2="235.3" y2="623.7" stroke="#3a3a3a" stroke-width="0.9" />
<line x1="156.3" y1="524" x2="156.3" y2="598" stroke="#666" stroke-width="0.7" />
<line x1="158" y1="524" x2="158" y2="598.5" stroke="#999" stroke-width="0.6" />
<line x1="71.4" y1="523.4" x2="275.5" y2="523.4" stroke="#333" stroke-width="1.2" />
<ellipse cx="81.1" cy="642.4" rx="18.9" ry="4.9" transform="rotate(-7 81.1 642.4)" fill="#6a6a6e" stroke="#222" stroke-width="0.7"/>
<g transform="translate(77.5,634.7) scale(0.8,0.8)"><path d="M-12,-1 C-19,-2 -25,-1 -24.5,3.5 C-24,7.5 -18,9.5 -12,8.5" fill="none" stroke="#3a3a3a" stroke-width="2.6" stroke-linecap="round"/><path d="M-12,-1 C-19,-2 -25,-1 -24.5,3.5 C-24,7.5 -18,9.5 -12,8.5" fill="none" stroke="#b8ae8e" stroke-width="1.3" stroke-linecap="round"/><path d="M-7.5,12 L0,12.5 L1,15.3 L-6,15.6 Z" fill="#b8ae8e" stroke="#3a3a3a" stroke-width="0.43749999999999994"/><path d="M-0.5,10 L9,10.5 L8.5,13 L0,12.8 Z" fill="#b8ae8e" stroke="#3a3a3a" stroke-width="0.43749999999999994"/><path d="M-12.6,10.2 C-15.5,5 -14.5,-3 -10,-8 C-6,-12.5 2,-14 6.6,-10.6 L11.5,-10.2 C15,-7 19,-1.5 21.6,3.1 C19.5,6 16.5,8 13.3,7.7 C8,11.5 -4,13 -12.6,10.2 Z" fill="#b8ae8e" stroke="#3a3a3a" stroke-width="0.8749999999999999" stroke-linejoin="round"/><path d="M10.6,-10 C10.4,-13 11,-15.2 12.2,-15.2 C13.8,-14.6 14.8,-11 14.4,-8.3" fill="#b8ae8e" stroke="#3a3a3a" stroke-width="0.8749999999999999"/><path d="M6.6,-10.6 C5.8,-8 6.5,-5.5 8.2,-3.8" fill="none" stroke="#3a3a3a" stroke-width="0.8749999999999999"/><path d="M9.3,0.8 C11,2.5 13,4.5 14.6,5.5" fill="none" stroke="#3a3a3a" stroke-width="0.7"/><circle cx="16.6" cy="-1.3" r="1.1" fill="#111"/><path d="M20,2.5 L23.5,-1 M20.5,3 L24,2.5 M20,3.5 L23,6.5 M19.5,4 L20.5,8" stroke="#3a3a3a" stroke-width="0.6124999999999999" fill="none"/></g>
<line x1="63.4" y1="591" x2="63.4" y2="645.8" stroke="#111" stroke-width="1.35" />
<line x1="69.3" y1="591" x2="69.3" y2="646.6" stroke="#111" stroke-width="1.35" />
<line x1="74.7" y1="591" x2="74.7" y2="647" stroke="#111" stroke-width="1.35" />
<line x1="80.6" y1="591" x2="80.6" y2="647" stroke="#111" stroke-width="1.35" />
<line x1="86.2" y1="591" x2="86.2" y2="646" stroke="#111" stroke-width="1.35" />
<line x1="92.2" y1="591" x2="92.2" y2="644.3" stroke="#111" stroke-width="1.35" />
<line x1="97.8" y1="591" x2="97.8" y2="641.7" stroke="#111" stroke-width="1.35" />
<ellipse cx="80.5" cy="590.2" rx="20.2" ry="3.5" transform="rotate(-3.5 80.5 590.2)" fill="#6a6a6e" stroke="#222" stroke-width="0.8"/>
<line x1="71.5" y1="586" x2="71.5" y2="676.5" stroke="#3a3a3a" stroke-width="0.9" />
<ellipse cx="211" cy="604.6" rx="9.6" ry="2.3" fill="#6a6a6e" stroke="#222" stroke-width="0.7"/>
<line x1="201" y1="565" x2="201" y2="605" stroke="#333" stroke-width="0.75" />
<line x1="204.5" y1="565" x2="204.5" y2="605" stroke="#333" stroke-width="0.75" />
<line x1="208.5" y1="565" x2="208.5" y2="605" stroke="#333" stroke-width="0.75" />
<line x1="211.7" y1="565" x2="211.7" y2="605" stroke="#333" stroke-width="0.75" />
<line x1="215.6" y1="565" x2="215.6" y2="605" stroke="#333" stroke-width="0.75" />
<line x1="218.8" y1="565" x2="218.8" y2="605" stroke="#333" stroke-width="0.75" />
<line x1="220.8" y1="565" x2="220.8" y2="605" stroke="#333" stroke-width="0.75" />
<ellipse cx="211.2" cy="564.8" rx="10.3" ry="1.3" fill="#6a6a6e" stroke="#222" stroke-width="0.7"/>
<g transform="translate(66,114) scale(1.0,1.0)"><path d="M-12,-1 C-19,-2 -25,-1 -24.5,3.5 C-24,7.5 -18,9.5 -12,8.5" fill="none" stroke="#555" stroke-width="2.6" stroke-linecap="round"/><path d="M-12,-1 C-19,-2 -25,-1 -24.5,3.5 C-24,7.5 -18,9.5 -12,8.5" fill="none" stroke="#fff" stroke-width="1.3" stroke-linecap="round"/><path d="M-7.5,12 L0,12.5 L1,15.3 L-6,15.6 Z" fill="#c2b58e" stroke="#8a7d5c" stroke-width="0.35"/><path d="M-0.5,10 L9,10.5 L8.5,13 L0,12.8 Z" fill="#c2b58e" stroke="#8a7d5c" stroke-width="0.35"/><path d="M-12.6,10.2 C-15.5,5 -14.5,-3 -10,-8 C-6,-12.5 2,-14 6.6,-10.6 L11.5,-10.2 C15,-7 19,-1.5 21.6,3.1 C19.5,6 16.5,8 13.3,7.7 C8,11.5 -4,13 -12.6,10.2 Z" fill="#eeeeee" stroke="#555" stroke-width="0.7" stroke-linejoin="round"/><path d="M10.6,-10 C10.4,-13 11,-15.2 12.2,-15.2 C13.8,-14.6 14.8,-11 14.4,-8.3" fill="#eeeeee" stroke="#555" stroke-width="0.7"/><path d="M6.6,-10.6 C5.8,-8 6.5,-5.5 8.2,-3.8" fill="none" stroke="#555" stroke-width="0.7"/><path d="M9.3,0.8 C11,2.5 13,4.5 14.6,5.5" fill="none" stroke="#555" stroke-width="0.5599999999999999"/><circle cx="16.6" cy="-1.3" r="1.1" fill="#111"/><path d="M20,2.5 L23.5,-1 M20.5,3 L24,2.5 M20,3.5 L23,6.5 M19.5,4 L20.5,8" stroke="#555" stroke-width="0.48999999999999994" fill="none"/></g>
<g transform="translate(78,135) scale(0.62,0.62)"><path d="M-12,-1 C-19,-2 -25,-1 -24.5,3.5 C-24,7.5 -18,9.5 -12,8.5" fill="none" stroke="#333" stroke-width="2.6" stroke-linecap="round"/><path d="M-12,-1 C-19,-2 -25,-1 -24.5,3.5 C-24,7.5 -18,9.5 -12,8.5" fill="none" stroke="#a2a2a6" stroke-width="1.3" stroke-linecap="round"/><path d="M-7.5,12 L0,12.5 L1,15.3 L-6,15.6 Z" fill="#a2a2a6" stroke="#333" stroke-width="0.564516129032258"/><path d="M-0.5,10 L9,10.5 L8.5,13 L0,12.8 Z" fill="#a2a2a6" stroke="#333" stroke-width="0.564516129032258"/><path d="M-12.6,10.2 C-15.5,5 -14.5,-3 -10,-8 C-6,-12.5 2,-14 6.6,-10.6 L11.5,-10.2 C15,-7 19,-1.5 21.6,3.1 C19.5,6 16.5,8 13.3,7.7 C8,11.5 -4,13 -12.6,10.2 Z" fill="#a2a2a6" stroke="#333" stroke-width="1.129032258064516" stroke-linejoin="round"/><path d="M10.6,-10 C10.4,-13 11,-15.2 12.2,-15.2 C13.8,-14.6 14.8,-11 14.4,-8.3" fill="#a2a2a6" stroke="#333" stroke-width="1.129032258064516"/><path d="M6.6,-10.6 C5.8,-8 6.5,-5.5 8.2,-3.8" fill="none" stroke="#333" stroke-width="1.129032258064516"/><path d="M9.3,0.8 C11,2.5 13,4.5 14.6,5.5" fill="none" stroke="#333" stroke-width="0.9032258064516129"/><circle cx="16.6" cy="-1.3" r="1.1" fill="#111"/><path d="M20,2.5 L23.5,-1 M20.5,3 L24,2.5 M20,3.5 L23,6.5 M19.5,4 L20.5,8" stroke="#333" stroke-width="0.7903225806451611" fill="none"/></g>
<g transform="translate(103.5,124) scale(0.62,0.62)"><path d="M-12,-1 C-19,-2 -25,-1 -24.5,3.5 C-24,7.5 -18,9.5 -12,8.5" fill="none" stroke="#333" stroke-width="2.6" stroke-linecap="round"/><path d="M-12,-1 C-19,-2 -25,-1 -24.5,3.5 C-24,7.5 -18,9.5 -12,8.5" fill="none" stroke="#a2a2a6" stroke-width="1.3" stroke-linecap="round"/><path d="M-7.5,12 L0,12.5 L1,15.3 L-6,15.6 Z" fill="#a2a2a6" stroke="#333" stroke-width="0.564516129032258"/><path d="M-0.5,10 L9,10.5 L8.5,13 L0,12.8 Z" fill="#a2a2a6" stroke="#333" stroke-width="0.564516129032258"/><path d="M-12.6,10.2 C-15.5,5 -14.5,-3 -10,-8 C-6,-12.5 2,-14 6.6,-10.6 L11.5,-10.2 C15,-7 19,-1.5 21.6,3.1 C19.5,6 16.5,8 13.3,7.7 C8,11.5 -4,13 -12.6,10.2 Z" fill="#a2a2a6" stroke="#333" stroke-width="1.129032258064516" stroke-linejoin="round"/><path d="M10.6,-10 C10.4,-13 11,-15.2 12.2,-15.2 C13.8,-14.6 14.8,-11 14.4,-8.3" fill="#a2a2a6" stroke="#333" stroke-width="1.129032258064516"/><path d="M6.6,-10.6 C5.8,-8 6.5,-5.5 8.2,-3.8" fill="none" stroke="#333" stroke-width="1.129032258064516"/><path d="M9.3,0.8 C11,2.5 13,4.5 14.6,5.5" fill="none" stroke="#333" stroke-width="0.9032258064516129"/><circle cx="16.6" cy="-1.3" r="1.1" fill="#111"/><path d="M20,2.5 L23.5,-1 M20.5,3 L24,2.5 M20,3.5 L23,6.5 M19.5,4 L20.5,8" stroke="#333" stroke-width="0.7903225806451611" fill="none"/></g>
<g transform="translate(115.5,136) scale(0.62,0.62)"><path d="M-12,-1 C-19,-2 -25,-1 -24.5,3.5 C-24,7.5 -18,9.5 -12,8.5" fill="none" stroke="#333" stroke-width="2.6" stroke-linecap="round"/><path d="M-12,-1 C-19,-2 -25,-1 -24.5,3.5 C-24,7.5 -18,9.5 -12,8.5" fill="none" stroke="#a2a2a6" stroke-width="1.3" stroke-linecap="round"/><path d="M-7.5,12 L0,12.5 L1,15.3 L-6,15.6 Z" fill="#a2a2a6" stroke="#333" stroke-width="0.564516129032258"/><path d="M-0.5,10 L9,10.5 L8.5,13 L0,12.8 Z" fill="#a2a2a6" stroke="#333" stroke-width="0.564516129032258"/><path d="M-12.6,10.2 C-15.5,5 -14.5,-3 -10,-8 C-6,-12.5 2,-14 6.6,-10.6 L11.5,-10.2 C15,-7 19,-1.5 21.6,3.1 C19.5,6 16.5,8 13.3,7.7 C8,11.5 -4,13 -12.6,10.2 Z" fill="#a2a2a6" stroke="#333" stroke-width="1.129032258064516" stroke-linejoin="round"/><path d="M10.6,-10 C10.4,-13 11,-15.2 12.2,-15.2 C13.8,-14.6 14.8,-11 14.4,-8.3" fill="#a2a2a6" stroke="#333" stroke-width="1.129032258064516"/><path d="M6.6,-10.6 C5.8,-8 6.5,-5.5 8.2,-3.8" fill="none" stroke="#333" stroke-width="1.129032258064516"/><path d="M9.3,0.8 C11,2.5 13,4.5 14.6,5.5" fill="none" stroke="#333" stroke-width="0.9032258064516129"/><circle cx="16.6" cy="-1.3" r="1.1" fill="#111"/><path d="M20,2.5 L23.5,-1 M20.5,3 L24,2.5 M20,3.5 L23,6.5 M19.5,4 L20.5,8" stroke="#333" stroke-width="0.7903225806451611" fill="none"/></g>
<g transform="translate(93.2,344.6) scale(0.63,0.63)"><path d="M-12,-1 C-19,-2 -25,-1 -24.5,3.5 C-24,7.5 -18,9.5 -12,8.5" fill="none" stroke="#333" stroke-width="2.6" stroke-linecap="round"/><path d="M-12,-1 C-19,-2 -25,-1 -24.5,3.5 C-24,7.5 -18,9.5 -12,8.5" fill="none" stroke="#a2a2a6" stroke-width="1.3" stroke-linecap="round"/><path d="M-7.5,12 L0,12.5 L1,15.3 L-6,15.6 Z" fill="#a2a2a6" stroke="#333" stroke-width="0.5555555555555555"/><path d="M-0.5,10 L9,10.5 L8.5,13 L0,12.8 Z" fill="#a2a2a6" stroke="#333" stroke-width="0.5555555555555555"/><path d="M-12.6,10.2 C-15.5,5 -14.5,-3 -10,-8 C-6,-12.5 2,-14 6.6,-10.6 L11.5,-10.2 C15,-7 19,-1.5 21.6,3.1 C19.5,6 16.5,8 13.3,7.7 C8,11.5 -4,13 -12.6,10.2 Z" fill="#a2a2a6" stroke="#333" stroke-width="1.111111111111111" stroke-linejoin="round"/><path d="M10.6,-10 C10.4,-13 11,-15.2 12.2,-15.2 C13.8,-14.6 14.8,-11 14.4,-8.3" fill="#a2a2a6" stroke="#333" stroke-width="1.111111111111111"/><path d="M6.6,-10.6 C5.8,-8 6.5,-5.5 8.2,-3.8" fill="none" stroke="#333" stroke-width="1.111111111111111"/><path d="M9.3,0.8 C11,2.5 13,4.5 14.6,5.5" fill="none" stroke="#333" stroke-width="0.8888888888888888"/><circle cx="16.6" cy="-1.3" r="1.1" fill="#111"/><path d="M20,2.5 L23.5,-1 M20.5,3 L24,2.5 M20,3.5 L23,6.5 M19.5,4 L20.5,8" stroke="#333" stroke-width="0.7777777777777776" fill="none"/></g>
<g transform="translate(502.5,127.2) scale(0.9,0.9)"><path d="M-12,-1 C-19,-2 -25,-1 -24.5,3.5 C-24,7.5 -18,9.5 -12,8.5" fill="none" stroke="#555" stroke-width="2.6" stroke-linecap="round"/><path d="M-12,-1 C-19,-2 -25,-1 -24.5,3.5 C-24,7.5 -18,9.5 -12,8.5" fill="none" stroke="#fff" stroke-width="1.3" stroke-linecap="round"/><path d="M-7.5,12 L0,12.5 L1,15.3 L-6,15.6 Z" fill="#c2b58e" stroke="#8a7d5c" stroke-width="0.38888888888888884"/><path d="M-0.5,10 L9,10.5 L8.5,13 L0,12.8 Z" fill="#c2b58e" stroke="#8a7d5c" stroke-width="0.38888888888888884"/><path d="M-12.6,10.2 C-15.5,5 -14.5,-3 -10,-8 C-6,-12.5 2,-14 6.6,-10.6 L11.5,-10.2 C15,-7 19,-1.5 21.6,3.1 C19.5,6 16.5,8 13.3,7.7 C8,11.5 -4,13 -12.6,10.2 Z" fill="#eeeeee" stroke="#555" stroke-width="0.7777777777777777" stroke-linejoin="round"/><path d="M10.6,-10 C10.4,-13 11,-15.2 12.2,-15.2 C13.8,-14.6 14.8,-11 14.4,-8.3" fill="#eeeeee" stroke="#555" stroke-width="0.7777777777777777"/><path d="M6.6,-10.6 C5.8,-8 6.5,-5.5 8.2,-3.8" fill="none" stroke="#555" stroke-width="0.7777777777777777"/><path d="M9.3,0.8 C11,2.5 13,4.5 14.6,5.5" fill="none" stroke="#555" stroke-width="0.6222222222222222"/><circle cx="16.6" cy="-1.3" r="1.1" fill="#111"/><path d="M20,2.5 L23.5,-1 M20.5,3 L24,2.5 M20,3.5 L23,6.5 M19.5,4 L20.5,8" stroke="#555" stroke-width="0.5444444444444443" fill="none"/></g>
<g transform="translate(510.2,346.9) scale(0.66,0.66)"><path d="M-12,-1 C-19,-2 -25,-1 -24.5,3.5 C-24,7.5 -18,9.5 -12,8.5" fill="none" stroke="#555" stroke-width="2.6" stroke-linecap="round"/><path d="M-12,-1 C-19,-2 -25,-1 -24.5,3.5 C-24,7.5 -18,9.5 -12,8.5" fill="none" stroke="#fff" stroke-width="1.3" stroke-linecap="round"/><path d="M-7.5,12 L0,12.5 L1,15.3 L-6,15.6 Z" fill="#c2b58e" stroke="#8a7d5c" stroke-width="0.5303030303030303"/><path d="M-0.5,10 L9,10.5 L8.5,13 L0,12.8 Z" fill="#c2b58e" stroke="#8a7d5c" stroke-width="0.5303030303030303"/><path d="M-12.6,10.2 C-15.5,5 -14.5,-3 -10,-8 C-6,-12.5 2,-14 6.6,-10.6 L11.5,-10.2 C15,-7 19,-1.5 21.6,3.1 C19.5,6 16.5,8 13.3,7.7 C8,11.5 -4,13 -12.6,10.2 Z" fill="#eeeeee" stroke="#555" stroke-width="1.0606060606060606" stroke-linejoin="round"/><path d="M10.6,-10 C10.4,-13 11,-15.2 12.2,-15.2 C13.8,-14.6 14.8,-11 14.4,-8.3" fill="#eeeeee" stroke="#555" stroke-width="1.0606060606060606"/><path d="M6.6,-10.6 C5.8,-8 6.5,-5.5 8.2,-3.8" fill="none" stroke="#555" stroke-width="1.0606060606060606"/><path d="M9.3,0.8 C11,2.5 13,4.5 14.6,5.5" fill="none" stroke="#555" stroke-width="0.8484848484848485"/><circle cx="16.6" cy="-1.3" r="1.1" fill="#111"/><path d="M20,2.5 L23.5,-1 M20.5,3 L24,2.5 M20,3.5 L23,6.5 M19.5,4 L20.5,8" stroke="#555" stroke-width="0.7424242424242423" fill="none"/></g>
<g transform="translate(144.2,600.5) scale(-0.77,0.77)"><path d="M-12,-1 C-19,-2 -25,-1 -24.5,3.5 C-24,7.5 -18,9.5 -12,8.5" fill="none" stroke="#555" stroke-width="2.6" stroke-linecap="round"/><path d="M-12,-1 C-19,-2 -25,-1 -24.5,3.5 C-24,7.5 -18,9.5 -12,8.5" fill="none" stroke="#fff" stroke-width="1.3" stroke-linecap="round"/><path d="M-7.5,12 L0,12.5 L1,15.3 L-6,15.6 Z" fill="#c2b58e" stroke="#8a7d5c" stroke-width="0.45454545454545453"/><path d="M-0.5,10 L9,10.5 L8.5,13 L0,12.8 Z" fill="#c2b58e" stroke="#8a7d5c" stroke-width="0.45454545454545453"/><path d="M-12.6,10.2 C-15.5,5 -14.5,-3 -10,-8 C-6,-12.5 2,-14 6.6,-10.6 L11.5,-10.2 C15,-7 19,-1.5 21.6,3.1 C19.5,6 16.5,8 13.3,7.7 C8,11.5 -4,13 -12.6,10.2 Z" fill="#e6e6e8" stroke="#555" stroke-width="0.9090909090909091" stroke-linejoin="round"/><path d="M10.6,-10 C10.4,-13 11,-15.2 12.2,-15.2 C13.8,-14.6 14.8,-11 14.4,-8.3" fill="#e6e6e8" stroke="#555" stroke-width="0.9090909090909091"/><path d="M6.6,-10.6 C5.8,-8 6.5,-5.5 8.2,-3.8" fill="none" stroke="#555" stroke-width="0.9090909090909091"/><path d="M9.3,0.8 C11,2.5 13,4.5 14.6,5.5" fill="none" stroke="#555" stroke-width="0.7272727272727273"/><circle cx="16.6" cy="-1.3" r="1.1" fill="#111"/><path d="M20,2.5 L23.5,-1 M20.5,3 L24,2.5 M20,3.5 L23,6.5 M19.5,4 L20.5,8" stroke="#555" stroke-width="0.6363636363636364" fill="none"/></g>
</svg></body></html>
